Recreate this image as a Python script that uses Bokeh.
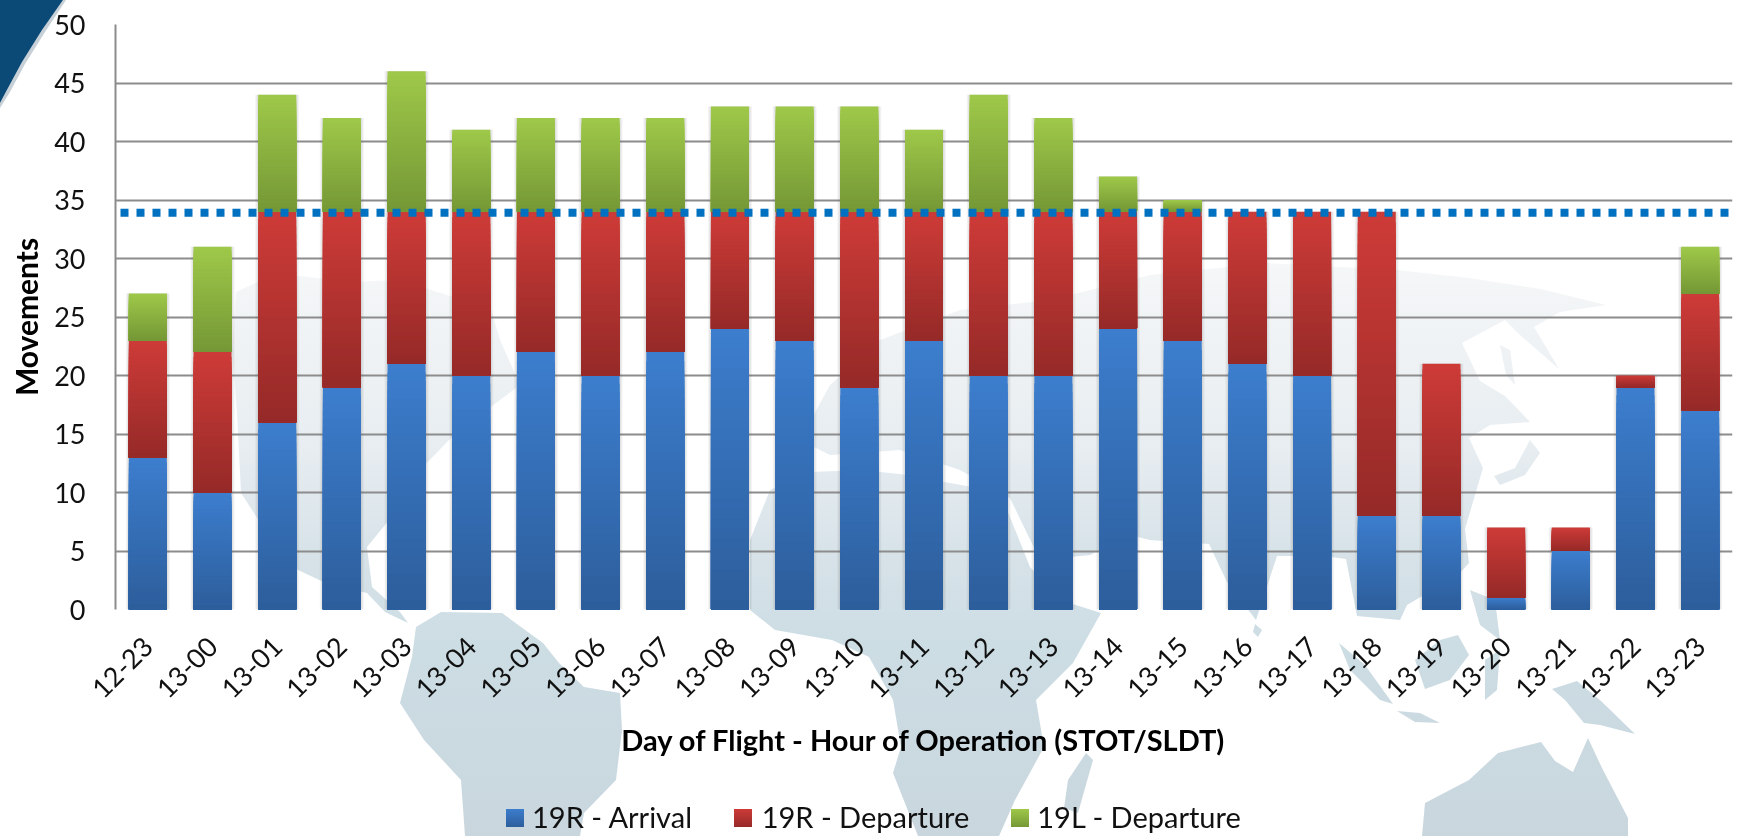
from math import pi
from urllib.parse import quote
from bokeh.plotting import figure
from bokeh.embed import file_html
from bokeh.resources import INLINE
from bokeh.models import (Range1d, LinearAxis, FixedTicker, ColumnDataSource, Arrow)

categories = ["12-23", "13-00", "13-01", "13-02", "13-03", "13-04", "13-05", "13-06", "13-07", "13-08",
              "13-09", "13-10", "13-11", "13-12", "13-13", "13-14", "13-15", "13-16", "13-17", "13-18",
              "13-19", "13-20", "13-21", "13-22", "13-23"]
arrival_19r = [13, 10, 16, 19, 21, 20, 22, 20, 22, 24, 23, 19, 23, 20, 20, 24, 23, 21, 20, 8, 8, 1, 5, 19, 17]
departure_19r = [10, 12, 18, 15, 13, 14, 12, 14, 12, 10, 11, 15, 11, 14, 14, 10, 11, 13, 14, 26, 13, 6, 2, 1, 10]
departure_19l = [4, 9, 10, 8, 12, 7, 8, 8, 8, 9, 9, 9, 7, 10, 8, 3, 1, 0, 0, 0, 0, 0, 0, 0, 4]
capacity = 33.9
series_names = ["19R - Arrival", "19R - Departure", "19L - Departure"]
x_title = "Day of Flight - Hour of Operation (STOT/SLDT)"
y_title = "Movements"

# page-decor outlines (page pixels): faint world map and the corner swoosh
MAP = [
    # North America
    [(236,292),(262,280),(300,276),(350,282),(400,280),(450,296),(490,305),(500,340),(520,385),(480,415),
     (449,440),(420,470),(408,497),(385,525),(367,547),(372,587),(400,612),(408,623),(385,612),(367,593),
     (330,585),(298,570),(265,530),(241,493),(237,413),(232,350)],
    # South America
    [(416,627),(441,612),(502,613),(543,643),(559,663),(584,687),(620,693),(622,730),(616,780),(584,813),
     (580,836),(465,836),(461,780),(424,740),(400,703),(412,657)],
    # Africa
    [(750,540),(770,490),(810,472),(860,470),(900,474),(1000,492),(1030,567),(1060,600),(1101,613),(1073,663),
     (1036,700),(1044,747),(1015,800),(999,836),(918,836),(893,773),(901,747),(893,700),(869,657),(832,640),
     (775,630),(750,610)],
    # Eurasia
    [(800,440),(830,385),(880,340),(960,310),(1050,300),(1150,275),(1267,263),(1397,270),(1469,278),(1541,289),
     (1606,305),(1560,312),(1534,327),(1559,369),(1520,335),(1505,320),(1462,343),(1480,381),(1505,396),(1530,422),
     (1490,425),(1469,438),(1483,468),(1465,529),(1469,563),(1458,575),(1407,605),(1400,620),(1357,616),(1346,559),
     (1324,556),(1277,556),(1256,620),(1227,582),(1209,544),(1150,540),(1097,527),(1077,500),(1120,540),(1090,555),
     (1040,560),(1010,498),(960,470),(900,450),(830,455)],
    # Australia
    [(1425,803),(1469,780),(1498,753),(1541,742),(1555,761),(1573,772),(1588,738),(1602,768),(1628,818),(1628,836),(1422,836)],
    # Sumatra, Borneo, Java, New Guinea, Sulawesi, Philippines
    [(1339,643),(1365,665),(1393,704),(1380,700),(1350,670)],
    [(1415,660),(1440,640),(1458,635),(1469,655),(1450,680),(1425,689)],
    [(1397,711),(1420,713),(1440,723),(1415,722)],
    [(1552,689),(1577,681),(1600,700),(1635,734),(1600,725),(1584,723),(1565,700)],
    [(1485,660),(1500,650),(1497,690),(1485,700)],
    [(1470,590),(1495,600),(1500,640),(1480,625)],
    # Japan, Madagascar, Sri Lanka, Sakhalin
    [(1494,476),(1515,468),(1530,440),(1540,453),(1525,475),(1500,485)],
    [(1086,753),(1093,760),(1078,813),(1064,808),(1068,780)],
    [(1255,624),(1262,630),(1258,637),(1253,632)],
    [(1500,345),(1510,350),(1515,385),(1506,375)],
]
SWOOSH = [(0,0),(63,0),(42,30),(22,62),(8,88),(0,103)]
SWOOSH_SHADE = [(63,0),(66,0),(45,32),(25,64),(10,92),(0,108),(0,103),(8,88),(22,62),(42,30)]

# series gradients: top colour, bottom colour
colors = [((60, 125, 205), (45, 94, 156)), ((205, 59, 56), (150, 42, 40)), ((158, 200, 73), (117, 152, 54))]
# legend layout in page pixels: swatch left edge, text centre
legend_swatch_x = [506, 734, 1011]
legend_text_cx = [612, 865, 1139]


def lerp(c0, c1, t):
    return "#%02x%02x%02x" % tuple(round(a + (b - a) * t) for a, b in zip(c0, c1))


def points(pts):
    return " ".join(f"{x},{y}" for x, y in pts)


stops = [(0.0, "#f6f8f9"), (0.14, "#f0f3f5"), (0.34, "#e7edf1"), (0.53, "#d6e2e8"), (0.67, "#cddde4"), (1.0, "#c9d6de")]
grads = "".join(
    f'<linearGradient id="s{i}" x1="0" y1="0" x2="0" y2="1"><stop offset="0" stop-color="{lerp(a, b, 0)}"/>'
    f'<stop offset="1" stop-color="{lerp(a, b, 1)}"/></linearGradient>' for i, (a, b) in enumerate(colors))
svg = ('<svg xmlns="http://www.w3.org/2000/svg" width="1739" height="836">'
       '<defs><linearGradient id="m" gradientUnits="userSpaceOnUse" x1="0" y1="250" x2="0" y2="836">'
       + "".join(f'<stop offset="{o}" stop-color="{c}"/>' for o, c in stops)
       + '</linearGradient>' + grads + '</defs><rect width="1739" height="836" fill="white"/>'
       + "".join(f'<polygon points="{points(q)}" fill="url(#m)"/>' for q in MAP)
       + f'<polygon points="{points(SWOOSH_SHADE)}" fill="#b9c4cc" fill-opacity="0.8"/>'
       + f'<polygon points="{points(SWOOSH)}" fill="#0b4a77"/>'
       + "".join(f'<rect x="{x}" y="809" width="18" height="18" fill="url(#s{i})"/>' for i, x in enumerate(legend_swatch_x))
       + '</svg>')

n = len(categories)
idx = list(range(n))
LEFT, RIGHT, TOP, BOTTOM = 115, 1732, 24, 609
slot_px = (RIGHT - LEFT) / n
bar = 38 / slot_px

p = figure(width=1739, height=836, output_backend="svg", toolbar_location=None,
           x_range=Range1d(-0.5, n - 0.5), y_range=Range1d(0, 50),
           x_axis_location=None, min_border_left=LEFT, min_border_right=1739 - RIGHT,
           min_border_top=TOP, min_border_bottom=836 - BOTTOM, outline_line_color=None,
           background_fill_color=None, border_fill_color=None)
p.styles = {"position": "fixed", "left": "0px", "top": "0px",
            "background-image": 'url("data:image/svg+xml,' + quote(svg) + '")',
            "background-repeat": "no-repeat"}

# y axis
yax = p.yaxis[0]
yax.ticker = FixedTicker(ticks=list(range(0, 51, 5)))
yax.major_tick_line_color = None
yax.minor_tick_line_color = None
yax.major_tick_out = 0
yax.axis_line_color = "#8c8c8c"
yax.axis_line_width = 2
yax.major_label_text_font = "Lato"
yax.major_label_text_font_size = "27px"
yax.major_label_text_color = "#111111"
yax.major_label_standoff = 30
yax.axis_label = y_title
yax.axis_label_text_font = "Lato"
yax.axis_label_text_font_size = "30px"
yax.axis_label_text_font_style = "bold"
yax.axis_label_text_color = "#000000"
yax.axis_label_standoff = 7

p.xgrid.visible = False
p.ygrid.grid_line_color = "#8c8c8c"
p.ygrid.grid_line_width = 2
p.ygrid.ticker = yax.ticker

# soft shadow behind the stacks
totals = [a + b + c for a, b, c in zip(arrival_19r, departure_19r, departure_19l)]
for k in (6, 4, 2):
    p.vbar(x=idx, top=totals, bottom=0, width=(38 + k) / slot_px, fill_color="#606060", fill_alpha=0.07, line_alpha=0)

# stacked bars with a per-segment vertical gradient (painted as nested rectangles, no seams)
series = [arrival_19r, departure_19r, departure_19l]
STEPS = 28
base = [0] * n
for vals, (c_top, c_bot) in zip(series, colors):
    xs, tops, bots, cols = [], [], [], []
    for s in range(STEPS):
        t = s / (STEPS - 1)
        for i, v in enumerate(vals):
            if v > 0:
                xs.append(i)
                bots.append(base[i])
                tops.append(base[i] + v * (1 - s / STEPS))
                cols.append(lerp(c_top, c_bot, t))
    src = ColumnDataSource(dict(x=xs, top=tops, bottom=bots, color=cols))
    p.vbar(x="x", top="top", bottom="bottom", width=bar, fill_color="color", line_alpha=0, source=src)
    base = [b + v for b, v in zip(base, vals)]

# capacity line, running off the right of the plot as in the original
p.add_layout(Arrow(end=None, x_start=-0.5 + 5 / slot_px, x_end=n - 0.5 + 7 / slot_px, y_start=capacity, y_end=capacity,
                   line_color="#0070c0", line_width=8, line_dash="8 8"))

# x axis
xax = LinearAxis(ticker=FixedTicker(ticks=idx),
                 major_label_overrides={i: c for i, c in zip(idx, categories)},
                 major_label_orientation=pi / 4, major_tick_line_color=None, minor_tick_line_color=None,
                 major_tick_out=0, axis_line_color=None, major_label_text_font="Lato",
                 major_label_text_font_size="27px", major_label_text_color="#111111", major_label_standoff=32,
                 axis_label=x_title, axis_label_text_font="Lato", axis_label_text_font_size="29px",
                 axis_label_text_font_style="bold", axis_label_text_color="#000000", axis_label_standoff=12)
p.add_layout(xax, "below")

# legend texts: a label-only axis stacked under the x axis (swatches are part of the page backdrop)
legend_ticks = [(c - LEFT) / slot_px - 0.5 for c in legend_text_cx]
legend_axis = LinearAxis(ticker=FixedTicker(ticks=legend_ticks),
                         major_label_overrides={t: nm for t, nm in zip(legend_ticks, series_names)},
                         major_tick_line_color=None, minor_tick_line_color=None, major_tick_out=0,
                         axis_line_color=None, major_label_text_font="Lato", major_label_text_font_size="29px",
                         major_label_text_color="#111111", major_label_standoff=38)
p.add_layout(legend_axis, "below")

open("out.html", "w").write(file_html(p, INLINE))
